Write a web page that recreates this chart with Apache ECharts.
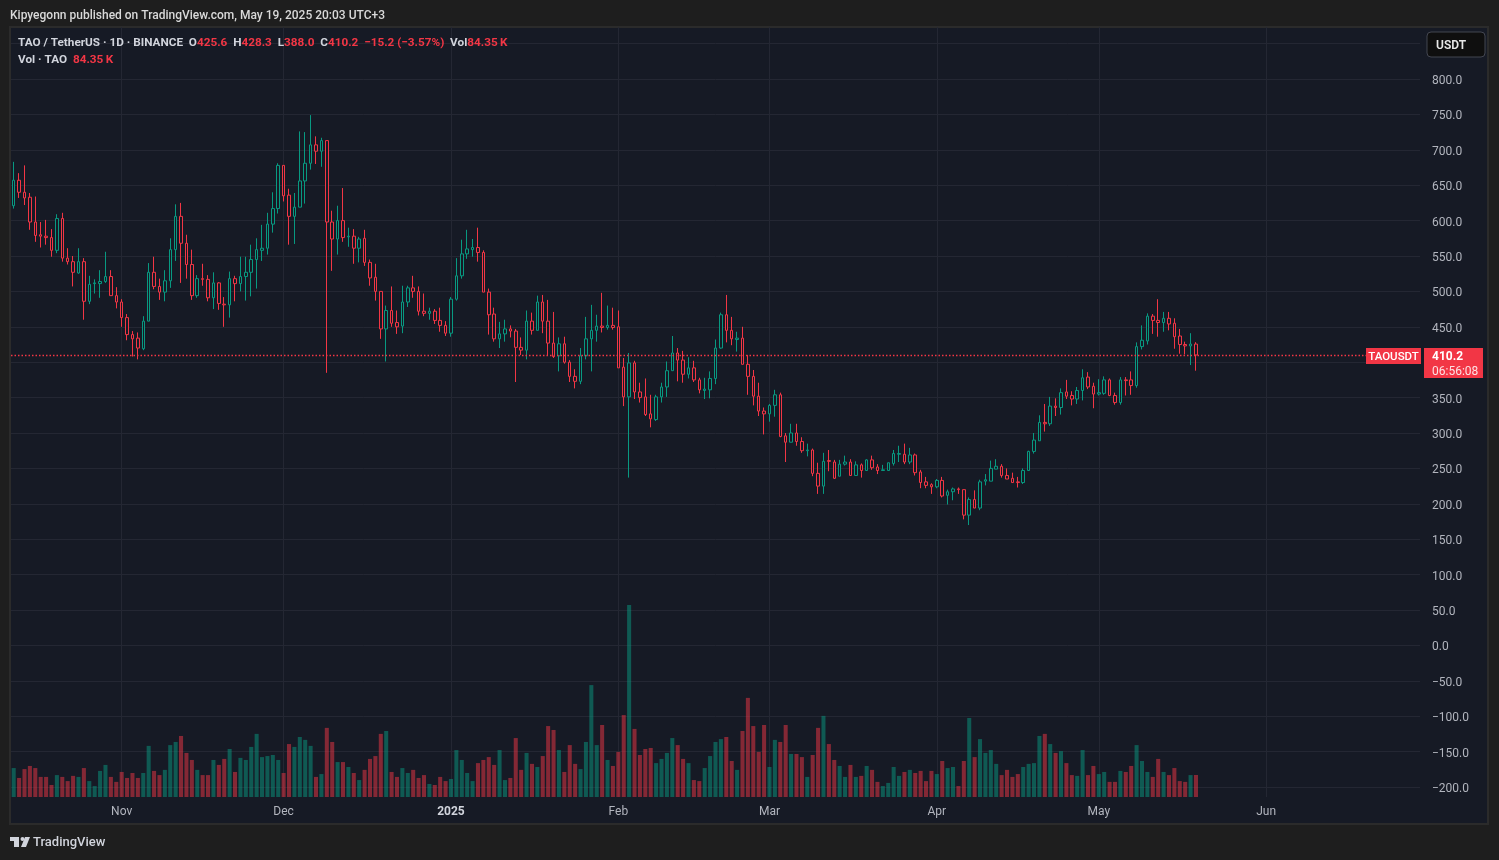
<!DOCTYPE html>
<html><head><meta charset="utf-8">
<script src="https://cdn.jsdelivr.net/npm/echarts@6/dist/echarts.min.js"></script>
<style>html,body{margin:0;padding:0;background:#1e1e1e;}#c{width:1499px;height:860px;}</style>
</head><body><div id="c"></div>
<script>
// ---- data ----
const startDate = '2024-10-12';
const dayCount = 261; // daily categories incl. empty right margin
const monthTicks = [['2024-11-01','Nov'],['2024-12-01','Dec'],['2025-01-01','2025'],['2025-02-01','Feb'],['2025-03-01','Mar'],['2025-04-01','Apr'],['2025-05-01','May'],['2025-06-01','Jun']];

const openP = [621,657,640,633,598,580,578,576,558,603,547,542,526,542,486,511,511,514,521,494,485,463,439,434,419,458,527,507,499,515,559,606,568,538,494,518,517,491,512,482,481,518,511,521,527,545,558,561,595,617,678,636,606,619,656,681,707,698,713,598,574,600,577,578,561,575,541,520,500,447,473,456,451,485,505,500,472,469,472,459,452,441,489,522,553,559,562,555,499,468,433,440,447,444,421,417,458,445,485,458,427,409,426,400,380,373,409,433,445,451,449,452,450,393,351,399,358,351,327,319,351,365,388,413,403,383,392,375,360,361,377,420,467,445,432,434,397,380,352,331,327,339,354,296,287,300,288,275,276,243,225,261,259,239,256,259,240,255,247,262,252,247,247,257,270,270,259,269,245,231,227,224,233,212,217,221,220,184,206,194,232,232,249,253,240,236,231,230,247,274,289,315,313,338,336,358,353,348,360,379,366,355,356,375,353,343,375,375,367,422,430,465,459,456,462,455,437,425,423,425.6];
const closeP = [657,640,632,598,579,578,576,558,603,547,542,527,542,486,510,512,514,521,494,485,463,439,433,420,458,527,507,499,515,559,606,568,538,494,518,517,491,512,483,481,518,511,521,527,545,559,561,595,617,678,635,606,619,656,681,707,698,713,598,574,600,576,578,561,574,541,519,500,447,473,455,450,485,505,500,472,469,472,459,452,441,489,522,553,560,562,555,499,467,433,440,447,444,421,417,458,445,485,458,427,408,426,400,380,373,409,433,445,451,449,452,449,392,351,399,358,350,326,320,351,365,388,413,403,383,392,375,361,362,377,420,467,445,433,434,397,380,352,331,327,339,354,295,287,300,288,275,276,243,225,260,260,236,256,259,240,255,247,262,251,247,248,258,271,271,259,269,244,230,226,224,233,211,217,221,220,184,206,194,231,234,250,253,240,235,230,230,247,274,290,315,313,338,336,357,352,348,360,378,365,355,357,375,353,343,375,374,367,422,431,465,459,456,462,454,436,425,423,425.6,410.2];
const lowP = [617,632,622,587,570,562,566,549,554,542,538,507,525,460,482,497,491,512,494,476,450,431,408,404,417,458,503,488,486,505,543,512,518,488,491,508,486,475,474,450,463,486,500,487,493,504,543,552,583,610,627,566,567,619,624,672,680,676,385,529,552,570,563,539,541,536,508,487,433,401,450,440,441,478,491,466,465,460,454,443,437,436,487,518,546,549,542,499,439,429,420,429,435,372,410,404,439,445,441,410,406,387,398,372,363,369,404,387,429,442,446,446,392,338,237,348,343,324,308,317,343,351,388,373,371,377,372,356,348,349,369,419,428,424,415,397,354,339,324,298,316,323,294,259,287,282,272,267,239,214,214,246,235,239,254,240,240,237,247,248,242,247,247,254,259,256,256,240,222,222,214,222,209,199,205,214,178,170,194,191,226,232,249,237,235,230,223,228,247,271,289,302,310,324,326,348,339,341,346,362,335,353,354,352,340,340,353,354,364,418,425,440,436,443,445,419,412,411,396,388.0];
const highP = [683,667,678,639,634,598,601,588,609,611,561,550,561,547,522,517,530,556,530,506,489,468,444,442,465,540,549,518,530,575,623,625,580,559,523,539,523,527,513,492,528,522,549,549,566,575,594,611,640,681,678,645,639,726,725,749,719,717,713,614,621,646,590,588,577,587,545,539,500,480,507,473,508,508,522,507,497,477,475,477,458,492,547,573,587,574,590,558,504,477,457,460,452,447,435,473,470,494,495,488,471,435,436,403,390,420,464,481,467,498,480,477,473,406,413,402,371,377,354,354,371,401,437,420,416,407,402,378,378,387,432,470,495,464,443,450,410,389,371,336,341,361,357,300,313,313,294,285,278,258,272,276,262,262,268,263,260,257,263,268,256,255,258,276,282,285,279,271,248,238,229,235,238,220,223,223,220,209,219,234,242,261,263,256,250,244,238,250,275,300,325,341,351,349,363,375,359,365,390,386,371,376,380,377,357,379,379,387,428,452,469,468,489,471,471,462,447,429,441,428.3];
const volumeK = [111,73,107,119,111,77,77,46,84,77,61,81,77,111,61,42,100,123,77,58,96,73,92,73,92,196,100,84,104,199,211,234,169,142,104,84,84,142,123,146,184,96,150,142,192,242,153,157,161,142,92,203,192,230,219,196,77,88,265,211,134,134,115,92,65,104,146,157,242,253,96,77,111,
92,104,73,84,50,46,77,61,69,180,142,92,61,130,142,153,123,180,65,73,226,104,169,127,115,157,272,257,180,96,199,127,107,211,429,199,276,142,119,173,314,736,261,161,184,188,130,146,169,226,199,146,130,65,61,111,157,211,222,230,138,104,253,380,272,173,276,115,219,211,276,165,165,153,
77,161,265,311,203,142,119,77,123,77,81,119,104,58,42,54,115,81,96,104,92,100,61,100,88,138,111,115,42,138,303,153,222,169,180,127,84,104,77,88,115,127,130,234,242,203,169,176,130,84,81,180,84,119,88,96,58,58,100,96,119,199,138,96,77,146,96,84,111,61,58,84,84.35];
const lastClose = 410.2;
const priceMin = -200, priceMax = 850, priceStep = 50;

// ---- build ----
const cats = [];
const d0 = new Date(startDate + 'T00:00:00Z');
for (let i = 0; i < dayCount; i++) cats.push(new Date(d0.getTime() + i * 86400000).toISOString().slice(0, 10));
const monthMap = {}; monthTicks.forEach(t => monthMap[t[0]] = t[1]);
const candleData = openP.map((o, i) => [o, closeP[i], lowP[i], highP[i]]);
const UP = '#089981', DN = '#f23645', BG = '#161a25', GRIDC = '#242733';
const volData = volumeK.map((v, i) => ({ value: v, itemStyle: { color: closeP[i] >= openP[i] ? 'rgba(8,153,129,0.5)' : 'rgba(242,54,69,0.5)' } }));
const isMonth = (idx, val) => monthMap[val] !== undefined;
const FONT = 'Roboto';
const LFS = 11.75;

const chart = echarts.init(document.getElementById('c'), null, { renderer: 'canvas' });
chart.setOption({
  animation: false,
  backgroundColor: '#1e1e1e',
  title: [
    { left: 10, top: 10, padding: 0, text: 'Kipyegonn published on TradingView.com, May 19, 2025 20:03 UTC+3',
      textStyle: { color: '#d9d9d9', fontSize: 12, fontWeight: 500, fontFamily: FONT } },
    { left: 18, top: 37, padding: 0,
      text: '{l|TAO / TetherUS · 1D · BINANCE}  {l|O}{v|425.6}  {l|H}{v|428.3}  {l|L}{v|388.0}  {l|C}{v|410.2}  {v|−15.2 (−3.57%)}  {l|Vol}{v|84.35\u2009K}',
      textStyle: { fontSize: LFS, fontFamily: FONT, color: '#d1d4dc',
        rich: { l: { color: '#d1d4dc', fontSize: LFS, fontFamily: FONT }, v: { color: DN, fontSize: LFS, fontFamily: FONT } } } },
    { left: 18, top: 54, padding: 0,
      text: '{l|Vol · TAO}  {v|84.35\u2009K}',
      textStyle: { fontSize: LFS, fontFamily: FONT, color: '#d1d4dc',
        rich: { l: { color: '#d1d4dc', fontSize: LFS, fontFamily: FONT }, v: { color: DN, fontSize: LFS, fontFamily: FONT } } } }
  ],
  grid: [
    { left: 11, right: 79, top: 43.6, bottom: 73 },
    { left: 11, right: 79, top: 27, bottom: 63 }
  ],
  xAxis: [
    { type: 'category', gridIndex: 0, data: cats, boundaryGap: true, show: false },
    { type: 'category', gridIndex: 1, data: cats, boundaryGap: true,
      axisLine: { show: false }, axisTick: { show: false, alignWithLabel: true },
      axisLabel: { interval: isMonth, margin: 9, color: '#b2b5be', fontSize: 12, fontFamily: FONT,
        formatter: v => v === '2025-01-01' ? '{y|' + monthMap[v] + '}' : (monthMap[v] || ''),
        rich: { y: { fontWeight: 'bold', color: '#d1d4dc', fontSize: 12, fontFamily: FONT } } },
      splitLine: { show: true, interval: isMonth, alignWithLabel: true, lineStyle: { color: GRIDC, width: 1 } } }
  ],
  yAxis: [
    { type: 'value', gridIndex: 0, position: 'right', min: priceMin, max: priceMax, interval: priceStep,
      axisLine: { show: false }, axisTick: { show: false },
      axisLabel: { margin: 12, color: '#b2b5be', fontSize: 12, fontFamily: FONT,
        formatter: v => v === priceMax ? '' : '{p|' + (v < 0 ? '−' + Math.abs(v).toFixed(1) : v.toFixed(1)) + '}',
        rich: { p: { color: '#b2b5be', fontSize: 12, fontFamily: FONT, padding: [4, 0, 0, 0] } } },
      splitLine: { show: true, lineStyle: { color: GRIDC, width: 1 } } },
    { type: 'value', gridIndex: 1, min: 0, max: 2952, show: false, splitLine: { show: false } }
  ],
  series: [
    { type: 'bar', xAxisIndex: 1, yAxisIndex: 1, data: volData, barWidth: '75%', silent: true },
    { type: 'candlestick', xAxisIndex: 0, yAxisIndex: 0, data: candleData, barWidth: 3, silent: true,
      itemStyle: { color: BG, color0: BG, borderColor: UP, borderColor0: DN, borderWidth: 1 },
      markLine: { silent: true, symbol: ['none', 'none'], label: { show: false },
        lineStyle: { color: DN, type: [1.5, 2], width: 1.3, opacity: 1 }, data: [{ yAxis: lastClose }] } }
  ]
});

const yLast = chart.convertToPixel({ yAxisIndex: 0 }, lastClose);
chart.setOption({
  graphic: [
    { type: 'rect', z: -100, shape: { x: 10, y: 27, width: 1478, height: 797 }, style: { fill: BG, stroke: '#2b2b2b', lineWidth: 2 } },
    { type: 'rect', z: 100, shape: { x: 1427, y: 32, width: 58, height: 25, r: 4 }, style: { fill: '#0f0f0f', stroke: '#434651', lineWidth: 1 } },
    { type: 'text', z: 101, style: { x: 1436, y: 45.5, text: 'USDT', fill: '#e8e8e8', font: '600 12px Roboto', verticalAlign: 'middle' } },
    { type: 'rect', z: 100, shape: { x: 1366, y: yLast - 7, width: 55, height: 16 }, style: { fill: DN } },
    { type: 'text', z: 101, style: { x: 1393.5, y: yLast + 2, text: 'TAOUSDT', fill: '#ffffff', font: '500 11.5px Roboto', align: 'center', verticalAlign: 'middle' } },
    { type: 'rect', z: 100, shape: { x: 1424, y: yLast - 7, width: 59, height: 30 }, style: { fill: DN } },
    { type: 'text', z: 101, style: { x: 1432, y: yLast + 2.5, text: String(lastClose.toFixed(1)), fill: '#ffffff', font: 'bold 12px Roboto', verticalAlign: 'middle' } },
    { type: 'text', z: 101, style: { x: 1432, y: yLast + 17.5, text: '06:56:08', fill: 'rgba(255,255,255,0.85)', font: '12px Roboto', verticalAlign: 'middle' } },
    { type: 'rect', z: 10, shape: { x: 10, y: 837, width: 9, height: 4 }, style: { fill: '#d1d4dc' } },
    { type: 'rect', z: 10, shape: { x: 14, y: 837, width: 5, height: 10 }, style: { fill: '#d1d4dc' } },
    { type: 'circle', z: 10, shape: { cx: 22.5, cy: 839, r: 2 }, style: { fill: '#d1d4dc' } },
    { type: 'polygon', z: 10, shape: { points: [[25, 837], [30, 837], [26, 847], [21, 847]] }, style: { fill: '#d1d4dc' } },
    { type: 'text', z: 10, style: { x: 33, y: 843, text: 'TradingView', fill: '#d1d4dc', font: '500 13px Roboto', verticalAlign: 'middle' } }
  ]
});
</script></body></html>
